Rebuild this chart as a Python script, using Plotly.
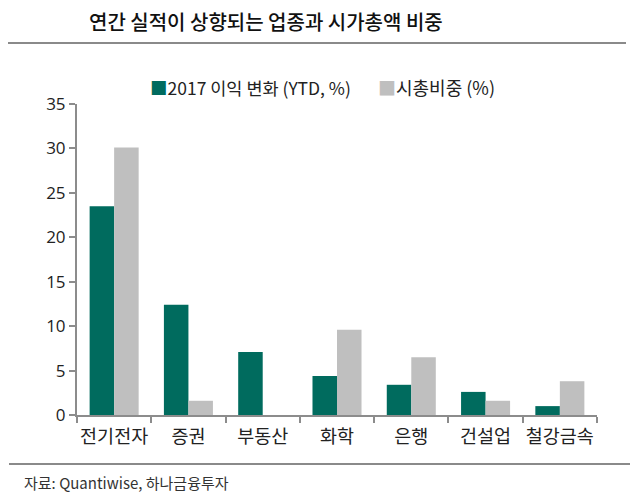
import plotly.graph_objects as go

categories = ["전기전자", "증권", "부동산", "화학", "은행", "건설업", "철강금속"]
profit_change = [23.5, 12.4, 7.1, 4.4, 3.4, 2.6, 1.0]
mcap_weight = [30.1, 1.6, 0.0, 9.6, 6.5, 1.6, 3.8]
series_names = ["2017 이익 변화 (YTD, %)", "시총비중 (%)"]
y_ticks = [0, 5, 10, 15, 20, 25, 30, 35]

W, H = 630, 498
L, R, T, B = 77, 597, 104, 415
GREEN = "#006B5E"
GRAY = "#BFBFBF"
AX = "#8C8C8C"
FONT = "Open Sans, Noto Sans CJK KR, sans-serif"


def px(x):
    return (x - L) / (R - L)


def py(y):
    return (B - y) / (B - T)


fig = go.Figure()
fig.add_trace(go.Bar(x=categories, y=profit_change, name=series_names[0],
                     marker=dict(color=GREEN, line=dict(width=0))))
fig.add_trace(go.Bar(x=categories, y=mcap_weight, name=series_names[1],
                     marker=dict(color=GRAY, line=dict(width=0))))

fig.update_layout(
    width=W, height=H,
    margin=dict(l=L, r=W - R, t=T, b=H - B, pad=0),
    paper_bgcolor="white", plot_bgcolor="white",
    barmode="group", bargap=0.34, bargroupgap=0,
    showlegend=False,
    font=dict(family=FONT, color="#333333"),
    xaxis=dict(
        showline=True, linecolor=AX, linewidth=2,
        ticks="outside", tickson="boundaries", ticklen=6, tickcolor=AX, tickwidth=2,
        tickangle=0, automargin=False, ticklabelstandoff=4,
        tickfont=dict(size=18.5, family="Noto Sans CJK KR", color="#222222"),
        showgrid=False, zeroline=False,
    ),
    yaxis=dict(
        range=[0, 35], tickvals=y_ticks, automargin=False,
        showline=True, linecolor=AX, linewidth=2,
        ticks="outside", ticklen=6, tickcolor=AX, tickwidth=2,
        tickfont=dict(size=17, color="#222222"),
        showgrid=False, zeroline=False,
    ),
)

# title
fig.add_annotation(text="연간 실적이 상향되는 업종과 시가총액 비중",
                   xref="paper", yref="paper", x=px(87), y=py(22),
                   xanchor="left", yanchor="middle", showarrow=False,
                   font=dict(size=20, family="Noto Sans CJK KR", color="#111111", weight=500))
# title rule
fig.add_shape(type="line", xref="paper", yref="paper",
              x0=px(8), x1=px(626), y0=py(43), y1=py(43),
              line=dict(color="#8A8A8A", width=2))
# bottom rule
fig.add_shape(type="line", xref="paper", yref="paper",
              x0=px(9), x1=px(630), y0=py(464), y1=py(464),
              line=dict(color="#8A8A8A", width=2))
# source
fig.add_annotation(text="자료: Quantiwise, 하나금융투자",
                   xref="paper", yref="paper", x=px(22), y=py(482),
                   xanchor="left", yanchor="middle", showarrow=False,
                   font=dict(size=15, family="Noto Sans CJK KR", color="#333333"))
# legend
fig.add_annotation(text=f"<span style='color:{GREEN}'>■</span>{series_names[0]}",
                   xref="paper", yref="paper", x=px(148), y=py(87),
                   xanchor="left", yanchor="middle", showarrow=False,
                   font=dict(size=17.5, family="Noto Sans CJK KR", color="#222222"))
fig.add_annotation(text=f"<span style='color:{GRAY}'>■</span>{series_names[1]}",
                   xref="paper", yref="paper", x=px(376), y=py(87),
                   xanchor="left", yanchor="middle", showarrow=False,
                   font=dict(size=18, family="Noto Sans CJK KR", color="#222222"))

fig.write_html("out.html")
